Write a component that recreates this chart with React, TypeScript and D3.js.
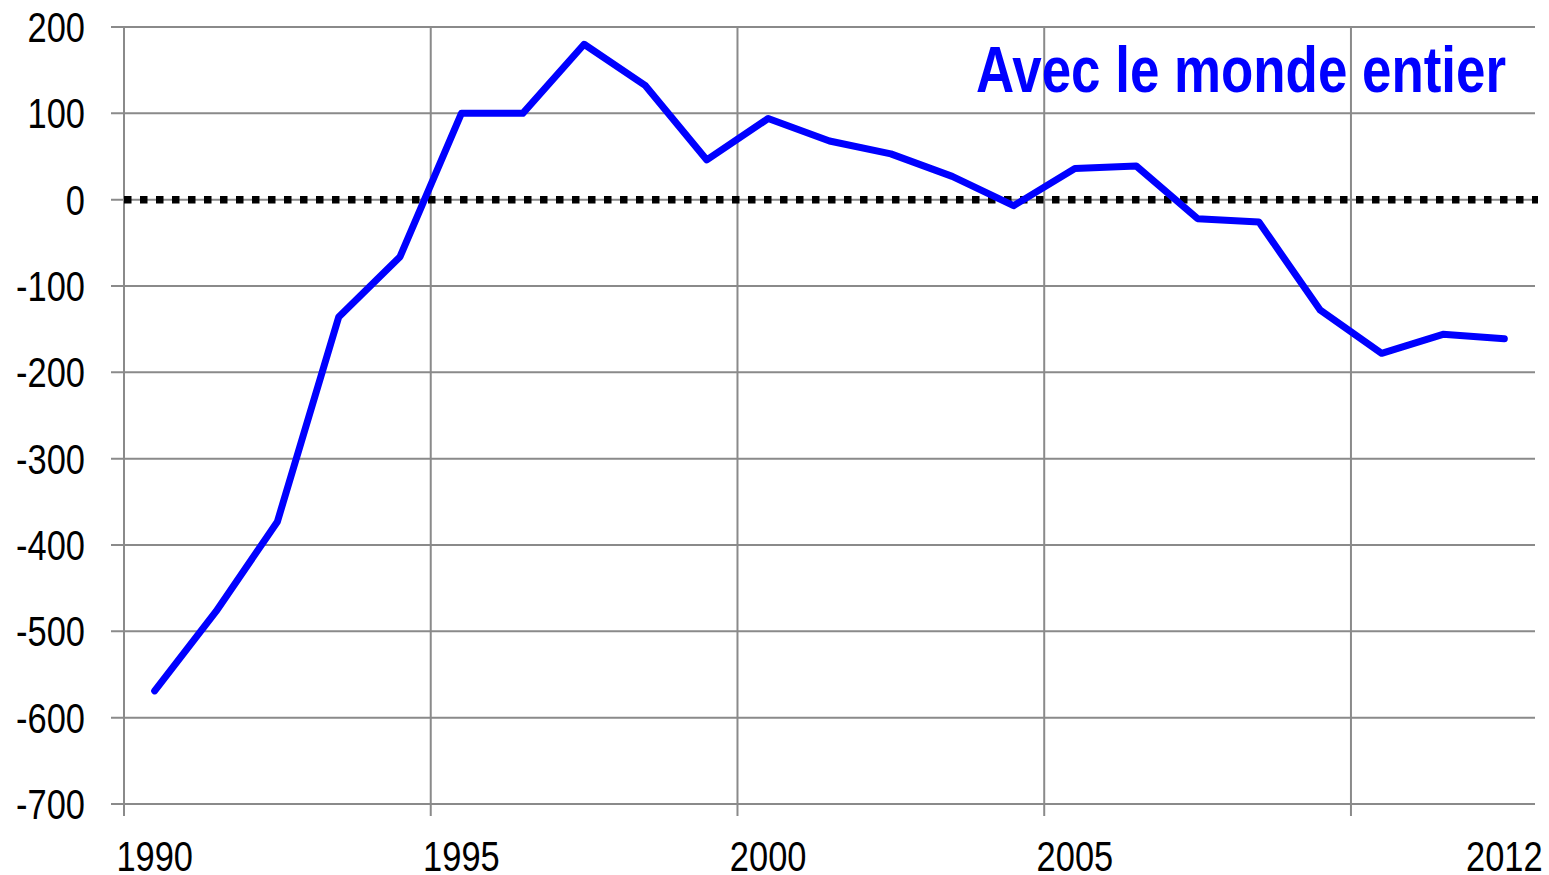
import React from "react";
import * as d3 from "d3";

// series (mid-year points)
const years = [
  "1990", "1991", "1992", "1993", "1994", "1995", "1996", "1997", "1998", "1999", "2000",
  "2001", "2002", "2003", "2004", "2005", "2006", "2007", "2008", "2009", "2010", "2011", "2012",
];
const balance = [
  -569, -477, -373, -136, -66, 100, 100, 180, 132, 46, 94,
  68, 53, 27, -7, 36, 39, -22, -26, -128, -178, -156, -161,
];
const shownYearLabels = ["1990", "1995", "2000", "2005", "2012"];
const yTicks = [200, 100, 0, -100, -200, -300, -400, -500, -600, -700];
const title = "Avec le monde entier";

const width = 1549;
const height = 875;
const margin = { top: 27, right: 14, bottom: 71, left: 124 };
const narrow = 0.82; // Arial Narrow look from Liberation Sans
const font = "'Liberation Sans', Arial, sans-serif";
const gridColor = "#8a8a8a";

export default function App() {
  const x = d3
    .scaleBand<string>()
    .domain(years)
    .range([margin.left, width - margin.right])
    .padding(0);
  const y = d3
    .scaleLinear()
    .domain([-700, 200])
    .range([height - margin.bottom, margin.top]);

  const cx = (yr: string) => (x(yr) as number) + x.bandwidth() / 2;
  const line = d3
    .line<number>()
    .x((_, i) => cx(years[i]))
    .y((d) => y(d));

  const left = margin.left;
  const right = width - margin.right;
  const bottom = y(-700);
  const boundaries = years.filter((_, i) => i % 5 === 0);

  return (
    <div style={{ position: "absolute", top: 0, left: 0 }}>
      <svg width={width} height={height} viewBox={`0 0 ${width} ${height}`}>
        <rect width={width} height={height} fill="#fff" />

        {/* horizontal grid + y ticks */}
        {yTicks.map((t) => (
          <g key={`h-${t}`}>
            <line x1={left - 13} x2={right} y1={y(t)} y2={y(t)} stroke={gridColor} strokeWidth={2} />
            <text
              transform={`translate(${left - 39},${y(t)}) scale(${narrow},1)`}
              dy="0.36em"
              textAnchor="end"
              fontFamily={font}
              fontSize={42}
              fill="#000"
            >
              {t}
            </text>
          </g>
        ))}

        {/* vertical grid every 5 categories */}
        {boundaries.map((yr) => (
          <line
            key={`v-${yr}`}
            x1={x(yr)}
            x2={x(yr)}
            y1={margin.top}
            y2={bottom + 12}
            stroke={gridColor}
            strokeWidth={2}
          />
        ))}

        {shownYearLabels.map((yr) => (
          <text
            key={`xl-${yr}`}
            transform={`translate(${cx(yr)},${bottom + 67}) scale(${narrow},1)`}
            textAnchor="middle"
            fontFamily={font}
            fontSize={42}
            fill="#000"
          >
            {yr}
          </text>
        ))}

        {/* zero reference line */}
        <line
          x1={left}
          x2={right + 3}
          y1={y(0)}
          y2={y(0)}
          stroke="#000"
          strokeWidth={7.5}
          strokeDasharray="7.5 8.5"
        />

        <path
          d={line(balance) ?? ""}
          fill="none"
          stroke="#0000ff"
          strokeWidth={7}
          strokeLinejoin="round"
          strokeLinecap="round"
        />

        <text
          transform={`translate(${right - 29},92) scale(${narrow},1)`}
          textAnchor="end"
          fontFamily={font}
          fontWeight="bold"
          fontSize={64.5}
          fill="#0000ff"
        >
          {title}
        </text>
      </svg>
    </div>
  );
}
